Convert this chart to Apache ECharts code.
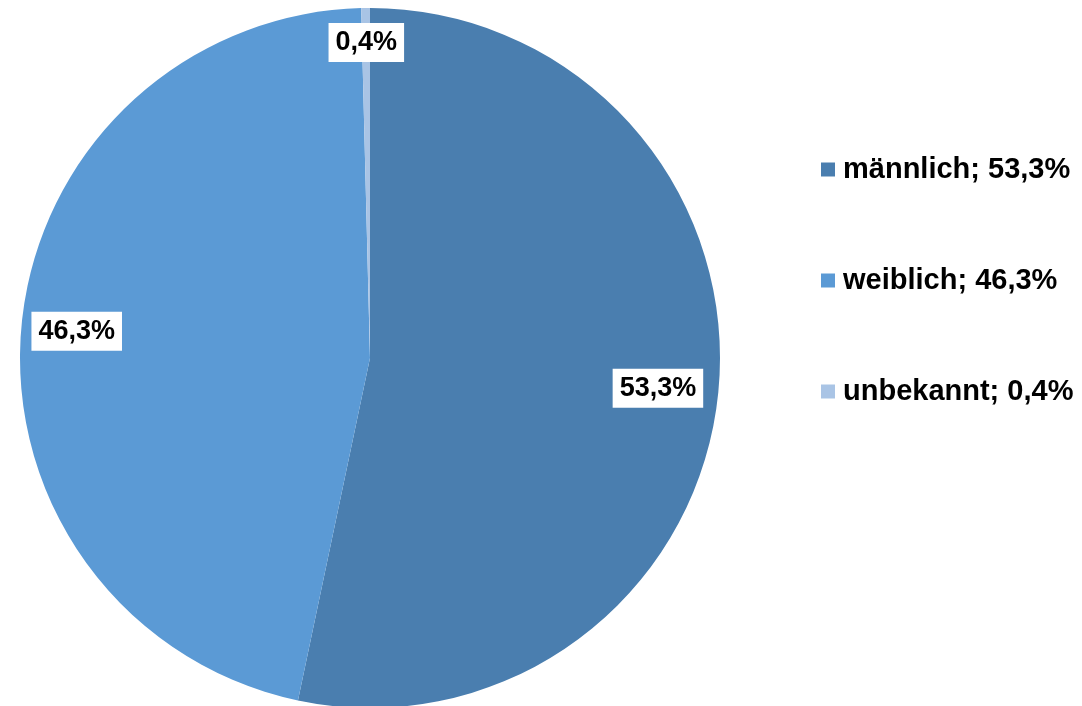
<!DOCTYPE html>
<html><head><meta charset="utf-8">
<script src="https://cdn.jsdelivr.net/npm/echarts@6/dist/echarts.min.js"></script>
<style>html,body{margin:0;padding:0;background:#fff}#c{width:1082px;height:706px}</style>
</head><body><div id="c"></div>
<script>
const categories = ['männlich', 'weiblich', 'unbekannt'];
const values = [53.3, 46.3, 0.4];
const colors = ['#4A7EAF', '#5B9AD5', '#A9C4E5'];

const fmt = v => v.toFixed(1).replace('.', ',') + '%';
const data = categories.map((c, i) => ({ name: c, value: values[i], itemStyle: { color: colors[i] } }));
const font = '"Liberation Sans", Arial, sans-serif';

const chart = echarts.init(document.getElementById('c'), null, { renderer: 'canvas' });
chart.setOption({
  animation: false,
  legend: {
    orient: 'vertical',
    left: 816,
    top: 150,
    itemWidth: 14,
    itemHeight: 14,
    itemGap: 82,
    icon: 'rect',
    data: categories,
    formatter: name => name + '; ' + fmt(values[categories.indexOf(name)]),
    textStyle: { fontFamily: font, fontWeight: 'bold', fontSize: 29, color: '#000', padding: [0, 0, 0, 3] }
  },
  series: [
    {
      type: 'pie',
      center: [370, 358],
      radius: [0, 350],
      startAngle: 90,
      clockwise: true,
      data: data,
      label: { show: false },
      labelLine: { show: false },
      emphasis: { disabled: true },
      itemStyle: { borderWidth: 0 }
    },
    {
      type: 'pie',
      center: [370, 358],
      radius: [231, 350],
      startAngle: 90,
      clockwise: true,
      silent: true,
      data: categories.map((c, i) => ({ name: c, value: values[i], itemStyle: { color: 'rgba(0,0,0,0)' } })),
      itemStyle: { borderWidth: 0 },
      label: {
        show: true,
        position: 'inside',
        formatter: p => fmt(p.value),
        fontFamily: font,
        fontWeight: 'bold',
        fontSize: 27,
        color: '#000',
        backgroundColor: '#fff',
        padding: [6, 7, 6, 7]
      },
      labelLayout: p => (p.dataIndex === 2 ? { dy: -22 } : (p.dataIndex === 0 ? { dx: -4 } : { dx: -1 })),
      labelLine: { show: false },
      emphasis: { disabled: true }
    }
  ]
});
</script></body></html>
